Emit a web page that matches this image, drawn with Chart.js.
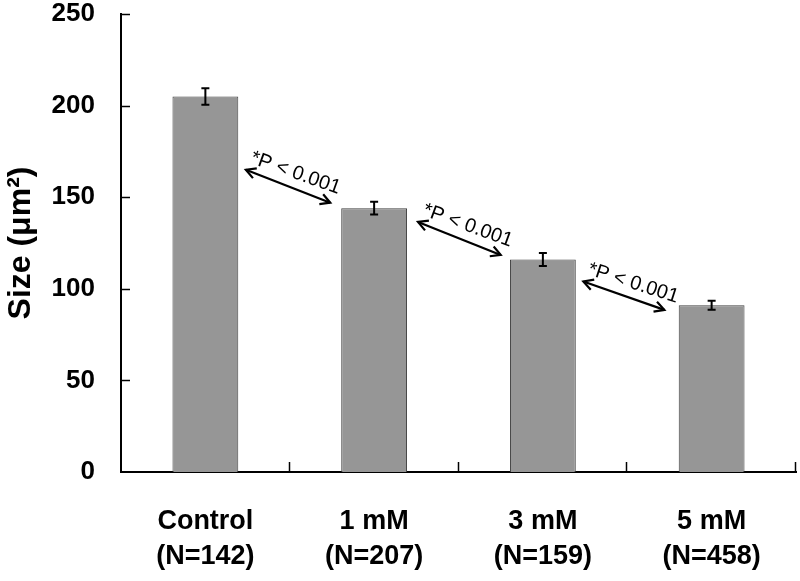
<!DOCTYPE html>
<html>
<head>
<meta charset="utf-8">
<script src="https://cdn.jsdelivr.net/npm/chart.js@4.4.1/dist/chart.umd.min.js"></script>
<style>
    html, body { margin: 0; padding: 0; background: #ffffff; }
    #wrap { width: 800px; height: 581px; }
</style>
</head>
<body>
<div id="wrap"><canvas id="size_chart" width="800" height="581"></canvas></div>
<script>
const categories = [["Control", "(N=142)"], ["1 mM", "(N=207)"], ["3 mM", "(N=159)"], ["5 mM", "(N=458)"]];
const sizeMeans  = [205, 144, 116, 91];
const sizeErrors = [4.5, 3.5, 3.5, 2.5];
const yTicks     = [0, 50, 100, 150, 200, 250];

// arrows between bars, as [category index, size value]
const arrowFrom   = [[0.24, 165], [1.26, 136.5], [2.24, 104]];
const arrowTo     = [[0.74, 147], [1.75, 118.5], [2.72, 88.5]];
const arrowLabels = ["*P < 0.001", "*P < 0.001", "*P < 0.001"];

const FONT = 'Arial, "Liberation Sans", sans-serif';

function arrowHead(ctx, x, y, ang) {
    const len = 11, spread = 0.5;
    ctx.beginPath();
    ctx.moveTo(x + len * Math.cos(ang + spread), y + len * Math.sin(ang + spread));
    ctx.lineTo(x, y);
    ctx.lineTo(x + len * Math.cos(ang - spread), y + len * Math.sin(ang - spread));
    ctx.stroke();
}

const extras = {
    id: 'extras',
    afterDatasetsDraw(chart) {
        const ctx = chart.ctx;
        const area = chart.chartArea;
        const x = chart.scales.x;
        const y = chart.scales.y;
        ctx.save();
        ctx.strokeStyle = '#000000';
        ctx.fillStyle = '#000000';

        // error bars
        ctx.lineWidth = 2;
        sizeMeans.forEach((m, i) => {
            const px = x.getPixelForValue(i);
            const top = y.getPixelForValue(m + sizeErrors[i]);
            const bot = y.getPixelForValue(m - sizeErrors[i]);
            ctx.beginPath();
            ctx.moveTo(px, top); ctx.lineTo(px, bot);
            ctx.moveTo(px - 4, top); ctx.lineTo(px + 4, top);
            ctx.moveTo(px - 4, bot); ctx.lineTo(px + 4, bot);
            ctx.stroke();
        });

        // inward tick marks
        ctx.lineWidth = 1.5;
        yTicks.forEach(v => {
            if (v === 0) return;
            const py = Math.round(y.getPixelForValue(v)) + 0.5;
            ctx.beginPath();
            ctx.moveTo(area.left, py);
            ctx.lineTo(area.left + 9, py);
            ctx.stroke();
        });
        categories.forEach((c, i) => {
            const px = Math.round(x.getPixelForValue(i + 0.5)) - 0.5;
            ctx.beginPath();
            ctx.moveTo(px, area.bottom);
            ctx.lineTo(px, area.bottom - 10);
            ctx.stroke();
        });

        // significance arrows
        ctx.lineWidth = 2.2;
        ctx.font = '20px ' + FONT;
        ctx.textBaseline = 'alphabetic';
        ctx.textAlign = 'left';
        arrowFrom.forEach((a, i) => {
            const b = arrowTo[i];
            const x0 = x.getPixelForValue(a[0]), y0 = y.getPixelForValue(a[1]);
            const x1 = x.getPixelForValue(b[0]), y1 = y.getPixelForValue(b[1]);
            const ang = Math.atan2(y1 - y0, x1 - x0);
            ctx.beginPath();
            ctx.moveTo(x0, y0); ctx.lineTo(x1, y1);
            ctx.stroke();
            arrowHead(ctx, x0, y0, ang);
            arrowHead(ctx, x1, y1, ang + Math.PI);
            ctx.save();
            ctx.translate(x0, y0);
            ctx.rotate(ang * 0.92);
            ctx.fillText(arrowLabels[i], 1, -8);
            ctx.restore();
        });
        ctx.restore();
    }
};

new Chart(document.getElementById('size_chart').getContext('2d'), {
    type: 'bar',
    data: {
        labels: categories,
        datasets: [{
            data: sizeMeans,
            backgroundColor: '#969696',
            borderColor: '#404040',
            borderWidth: 1,
            barPercentage: 0.39,
            categoryPercentage: 1.0
        }]
    },
    options: {
        responsive: false,
        animation: false,
        devicePixelRatio: 1,
        layout: { padding: { top: 14, right: 4, bottom: 0, left: 0 } },
        plugins: {
            legend: { display: false },
            tooltip: { enabled: false }
        },
        scales: {
            x: {
                grid: { display: false, drawTicks: false },
                border: { display: true, color: '#000000', width: 2 },
                ticks: {
                    color: '#000000',
                    padding: 32,
                    maxRotation: 0,
                    font: { family: FONT, size: 27, weight: 'bold', lineHeight: 1.3 }
                },
                afterFit: s => { s.height = 109; s.paddingLeft = 0; s.paddingRight = 0; }
            },
            y: {
                min: 0,
                max: 250,
                afterBuildTicks: s => { s.ticks = yTicks.map(v => ({ value: v })); },
                grid: { display: false, drawTicks: false },
                border: { display: true, color: '#000000', width: 2 },
                ticks: {
                    color: '#000000',
                    padding: 26,
                    font: { family: FONT, size: 26, weight: 'bold' }
                },
                title: {
                    display: true,
                    text: 'Size (\u03bcm\u00b2)',
                    color: '#000000',
                    padding: { top: 2, bottom: 0 },
                    font: { family: FONT, size: 32, weight: 'bold' }
                },
                afterFit: s => { s.width = 121; s.paddingTop = 0; s.paddingBottom = 0; }
            }
        }
    },
    plugins: [extras]
});
</script>
</body>
</html>
